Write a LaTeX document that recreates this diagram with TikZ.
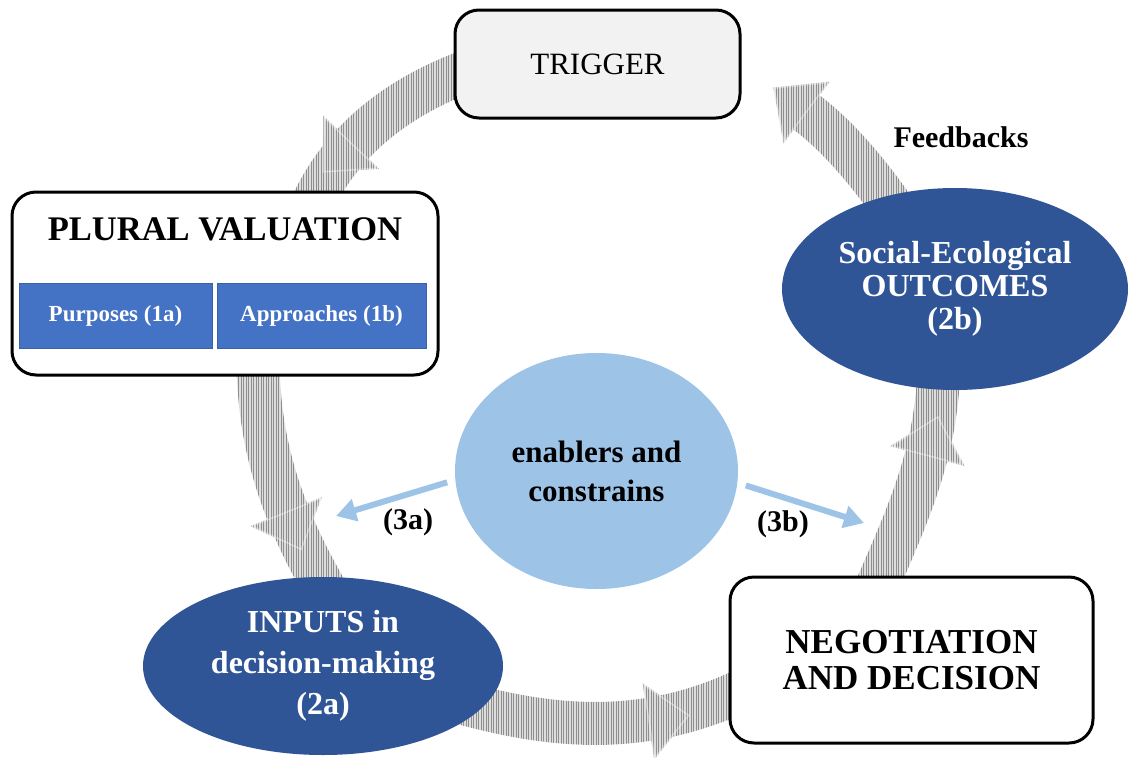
\documentclass[tikz,border=0pt]{standalone}
\usepackage{fontspec}
\setmainfont{Liberation Serif}
\usetikzlibrary{arrows.meta,decorations.markings,backgrounds,shapes.geometric}
\definecolor{dblue}{HTML}{2F5597}
\definecolor{mblue}{HTML}{4472C4}
\definecolor{lblue}{HTML}{9DC3E6}
\definecolor{tgray}{HTML}{F2F2F2}
\definecolor{bandgray}{HTML}{8E8E8E}
\definecolor{headline}{HTML}{B8B8B8}
\begin{document}
\begin{tikzpicture}[x=1pt,y=-1pt,
  rbox/.style={draw=black,line width=3pt,rounded corners=24pt,inner sep=0pt,align=center},
  subbox/.style={fill=mblue,draw=mblue!85!black,line width=1pt,inner sep=0pt,minimum height=65pt,text=white,font=\bfseries\fontsize{23}{23}\selectfont},
  oval/.style={ellipse,inner sep=0pt,align=center},
  gband/.style={draw=bandgray,line width=43pt},
  ext/.style={shorten <=-20pt,shorten >=-20pt},
  headat/.style={postaction={decorate,decoration={markings,mark=at position #1 with {\filldraw[fill=bandgray,draw=headline,line width=1.5pt] (0pt,-37pt) -- (40pt,0pt) -- (0pt,37pt) -- cycle;}}}},
  hatch/.style={draw=white,line width=1.2pt,opacity=0.7},
  barrow/.style={draw=lblue,line width=6pt,-{Triangle[length=20pt,width=22pt]},shorten <=8pt},
  lab/.style={font=\bfseries\fontsize{30}{30}\selectfont,inner sep=0pt}
]
\useasboundingbox (0,0) rectangle (1133,758);

% boxes and ovals
\node[rbox,fill=tgray,minimum width=285pt,minimum height=108pt,font=\fontsize{31}{31}\selectfont] (trig) at (597.5,64) {TRIGGER};
\node[rbox,fill=white,minimum width=426pt,minimum height=183pt] (plural) at (225,283.5) {};
\node[font=\bfseries\fontsize{34.5}{34.5}\selectfont,inner sep=0pt] (ptitle) at (225,229.5) {PLURAL VALUATION};
\node[subbox,minimum width=193pt] (purp) at (115.5,315.5) {Purposes (1a)};
\node[subbox,minimum width=209pt] (appr) at (321.5,315.5) {Approaches (1b)};
\node[oval,fill=dblue,minimum width=346pt,minimum height=202pt,text=white,font=\bfseries\fontsize{32}{33}\selectfont] (out) at (955,289) {Social-Ecological\\OUTCOMES\\(2b)};
\node[oval,fill=dblue,minimum width=360pt,minimum height=178pt,text=white,font=\bfseries\fontsize{32}{41}\selectfont] (inp) at (323,666) {INPUTS in\\decision-making\\(2a)};
\node[oval,fill=lblue,minimum width=283pt,minimum height=236pt,font=\bfseries\fontsize{31}{39}\selectfont] (enab) at (596.5,471) {enablers and\\constrains};
\node[rbox,fill=white,minimum width=363pt,minimum height=166pt,font=\bfseries\fontsize{35}{36}\selectfont] (neg) at (911.5,660) {NEGOTIATION\\AND DECISION};

% labels
\node[lab] (fb) at (961,137) {Feedbacks};
\node[lab] (l3a) at (408,522) {(3a)};
\node[lab] (l3b) at (783,524) {(3b)};

% free ends
\coordinate (tipL) at (336,516);
\coordinate (tipR) at (864,523);
\coordinate (fbhead) at (806,112);

% blue arrows
\draw[barrow] ([yshift=-9pt]enab.west) -- (tipL);
\draw[barrow] ([yshift=-12pt]enab.east) -- (tipR);

% grey cycle arrows (hatched)
\begin{pgfonlayer}{background}
\draw[gband,ext,headat=0.68] ([yshift=-12pt]trig.west) .. controls (400,95) and (340,140) .. ([xshift=93pt]plural.north);
\draw[gband,ext,headat=0.66] ([xshift=33pt]plural.south) .. controls (258,450) and (285,520) .. ([xshift=-5pt]inp.north);
\draw[gband,ext,headat=0.67] (inp.-15) .. controls (560,730) and (650,735) .. ([yshift=-37pt]neg.west);
\draw[gband,ext,headat=0.66] ([xshift=-30pt]neg.north) .. controls (915,500) and (935,450) .. ([xshift=-17pt]out.south);
\draw[gband,shorten <=-20pt,headat=0.999] (out.127) .. controls (860,160) and (830,130) .. (fbhead);
\foreach \hx in {0,2.5,...,1133} { \draw[hatch] (\hx,0) -- (\hx,758); }
\end{pgfonlayer}
\end{tikzpicture}
\end{document}
